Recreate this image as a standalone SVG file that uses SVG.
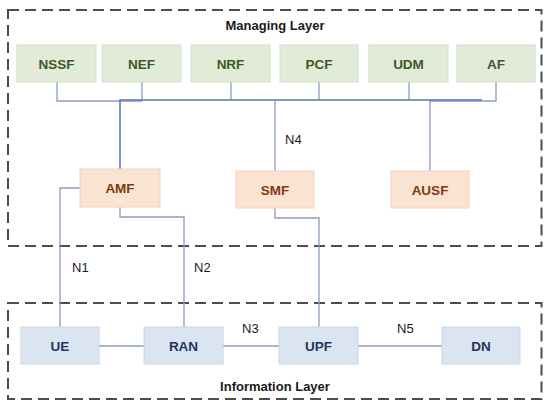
<svg xmlns="http://www.w3.org/2000/svg" width="550" height="409" viewBox="0 0 550 409">
<style>
.layer{fill:none;stroke:#4d4d4d;stroke-width:2;stroke-dasharray:11 6}
.title{font-family:"Liberation Sans",Arial,sans-serif;font-size:13px;font-weight:bold;fill:#1a1a1a;text-anchor:middle}
.g rect{fill:#e2ebd8;stroke:#d3dfc6;stroke-width:1}
.g text{fill:#3a5a28}
.o rect{fill:#fbe3d2;stroke:#f2d2bd;stroke-width:1}
.o text{fill:#7f3a10}
.b rect{fill:#dbe5f1;stroke:#c9d6e8;stroke-width:1}
.b text{fill:#1f3560}
.n text{font-family:"Liberation Sans",Arial,sans-serif;font-size:13.5px;font-weight:bold;text-anchor:middle}
.c{fill:none;stroke:#8a9cc2;stroke-width:1.3}
.bus{fill:none;stroke:#5577b5;stroke-width:1.5}
.lbl{font-family:"Liberation Sans",Arial,sans-serif;font-size:13px;fill:#1a1a1a}
</style>
<rect class="layer" x="8" y="10" width="533.5" height="236"/>
<text class="title" x="275" y="30">Managing Layer</text>
<rect class="layer" x="8" y="303" width="533.5" height="96"/>
<text class="title" x="275" y="391">Information Layer</text>
<g id="connectors">
<polyline class="c" points="57,82 57,101 142,101"/>
<line class="c" x1="142" y1="82" x2="142" y2="101"/>
<line class="c" x1="231" y1="82" x2="231" y2="100"/>
<line class="c" x1="319" y1="82" x2="319" y2="100"/>
<line class="c" x1="409" y1="82" x2="409" y2="100"/>
<polyline class="c" points="496,82 496,101 430,101 430,171"/>
<polyline class="bus" points="120,169 120,100 482,100"/>
<line class="c" x1="275" y1="100" x2="275" y2="171"/>
<polyline class="c" points="80,188 60,188 60,327"/>
<polyline class="c" points="120,207 120,217 184,217 184,327"/>
<polyline class="c" points="275,208 275,218 319,218 319,327"/>
<line class="c" x1="99" y1="346" x2="144" y2="346"/>
<line class="c" x1="223" y1="346" x2="279" y2="346"/>
<line class="c" x1="358" y1="346" x2="442" y2="346"/>
</g>
<text class="lbl" x="285" y="144">N4</text>
<text class="lbl" x="72" y="272">N1</text>
<text class="lbl" x="194" y="272">N2</text>
<text class="lbl" x="242" y="333">N3</text>
<text class="lbl" x="397" y="333">N5</text>
<g id="NSSF" class="n g"><rect x="17" y="45" width="79" height="37"/><text x="56.5" y="68.5">NSSF</text></g>
<g id="NEF" class="n g"><rect x="102" y="45" width="79" height="37"/><text x="141.5" y="68.5">NEF</text></g>
<g id="NRF" class="n g"><rect x="191" y="45" width="79" height="37"/><text x="230.5" y="68.5">NRF</text></g>
<g id="PCF" class="n g"><rect x="280" y="45" width="78" height="37"/><text x="319" y="68.5">PCF</text></g>
<g id="UDM" class="n g"><rect x="369" y="45" width="79" height="37"/><text x="408.5" y="68.5">UDM</text></g>
<g id="AF" class="n g"><rect x="457" y="45" width="78" height="37"/><text x="496" y="68.5">AF</text></g>
<g id="AMF" class="n o"><rect x="80" y="169" width="80" height="38"/><text x="120" y="193">AMF</text></g>
<g id="SMF" class="n o"><rect x="236" y="171" width="78" height="37"/><text x="275" y="194.5">SMF</text></g>
<g id="AUSF" class="n o"><rect x="391" y="171" width="78" height="37"/><text x="430" y="194.5">AUSF</text></g>
<g id="UE" class="n b"><rect x="21" y="327" width="78" height="37"/><text x="60" y="350.5">UE</text></g>
<g id="RAN" class="n b"><rect x="144" y="327" width="79" height="37"/><text x="183.5" y="350.5">RAN</text></g>
<g id="UPF" class="n b"><rect x="279" y="327" width="79" height="37"/><text x="318.5" y="350.5">UPF</text></g>
<g id="DN" class="n b"><rect x="442" y="327" width="78" height="37"/><text x="481" y="350.5">DN</text></g>
</svg>
